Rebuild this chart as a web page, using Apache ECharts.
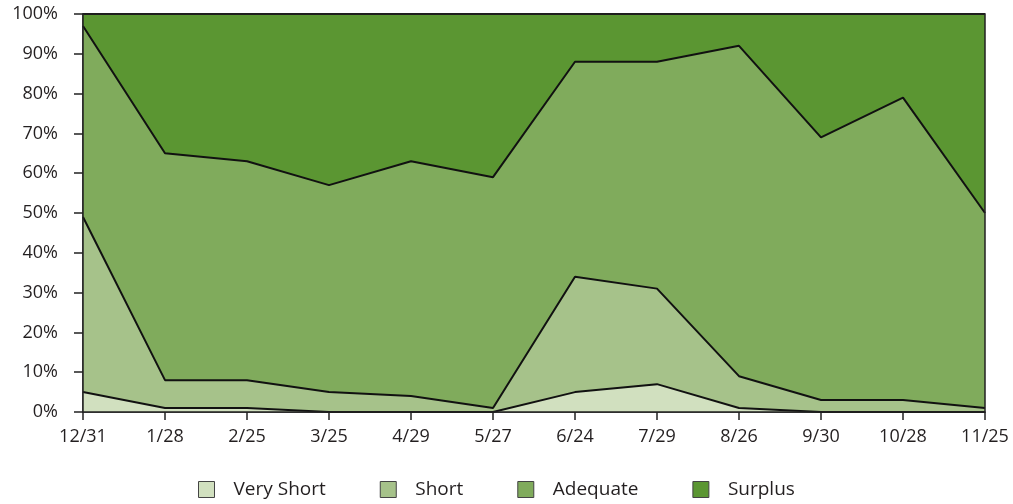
<!DOCTYPE html>
<html>
<head>
<meta charset="utf-8">
<script src="https://cdn.jsdelivr.net/npm/echarts@6/dist/echarts.min.js"></script>
<style>
html,body{margin:0;padding:0;background:#fff;}
#chart{width:1013px;height:504px;}
</style>
</head>
<body>
<div id="chart"></div>
<script>
const categories = ['12/31','1/28','2/25','3/25','4/29','5/27','6/24','7/29','8/26','9/30','10/28','11/25'];
const veryShort = [5, 1, 1, 0, 0, 0, 5, 7, 1, 0, 0, 0];
const short     = [44, 7, 7, 5, 4, 1, 29, 24, 8, 3, 3, 1];
const adequate  = [48, 57, 55, 52, 59, 58, 54, 57, 83, 66, 76, 49];
const surplus   = [3, 35, 37, 43, 37, 41, 12, 12, 8, 31, 21, 50];
const seriesNames = ['Very Short','Short','Adequate','Surplus'];
const colors = ['#d1e0bf','#a6c28a','#80ab5c','#5b9632'];

const textColor = '#231f20';
const font = 'Open Sans';
const chart = echarts.init(document.getElementById('chart'), null, {renderer:'canvas'});
const dataSets = [veryShort, short, adequate, surplus];
chart.setOption({
  animation:false,
  grid:{left:83,right:28,top:14,bottom:92,show:true,borderColor:'#222',borderWidth:1.5,backgroundColor:'transparent',z:20},
  legend:{
    top:475,left:193,icon:'rect',itemWidth:16,itemHeight:16,itemGap:54,
    data:seriesNames,
    itemStyle:{borderColor:'#444',borderWidth:1},
    textStyle:{color:textColor,fontFamily:font,fontSize:19,padding:[0,0,0,14]}
  },
  xAxis:{
    type:'category',data:categories,boundaryGap:false,
    axisLine:{lineStyle:{color:'#222',width:1.5}},
    axisTick:{show:true,length:8,lineStyle:{color:'#222',width:1.5}},
    axisLabel:{color:textColor,fontFamily:font,fontSize:18,margin:16},
    splitLine:{show:false}
  },
  yAxis:{
    type:'value',min:0,max:100,interval:10,
    axisLine:{show:true,lineStyle:{color:'#222',width:1.5}},
    axisTick:{show:true,length:9,lineStyle:{color:'#222',width:1.5}},
    axisLabel:{color:textColor,fontFamily:font,fontSize:18,margin:25,formatter:'{value}%'},
    splitLine:{show:false}
  },
  series: seriesNames.map((n,i)=>({
    name:n,type:'line',stack:'total',data:dataSets[i],
    showSymbol:false,symbol:'none',
    itemStyle:{color:colors[i]},
    lineStyle:{color:'#111',width:2},
    areaStyle:{color:colors[i],opacity:1},
    z:10-i
  }))
});
</script>
</body>
</html>
